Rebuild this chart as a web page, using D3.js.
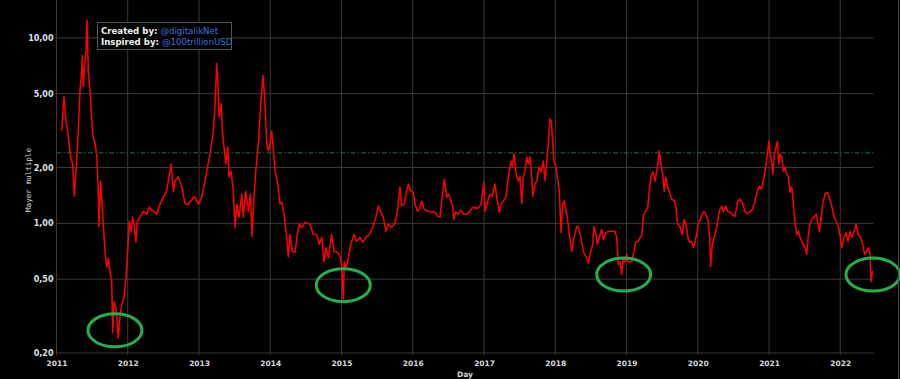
<!DOCTYPE html>
<html><head><meta charset="utf-8">
<script src="https://cdn.jsdelivr.net/npm/d3@7"></script>
<style>
html,body{margin:0;padding:0;background:#000;}
svg{display:block;}
</style></head>
<body>
<svg id="chart" width="900" height="379"></svg>
<script>
// ---- data (decimal year, Mayer multiple) ----
const dayYears = [2011.073,2011.105,2011.133,2011.166,2011.199,2011.227,2011.250,2011.274,2011.306,2011.330,2011.354,2011.362,2011.376,2011.396,2011.414,2011.428,2011.446,2011.470,2011.484,2011.508,2011.540,2011.564,2011.587,2011.596,2011.620,2011.639,2011.657,2011.681,2011.705,2011.727,2011.751,2011.775,2011.789,2011.807,2011.835,2011.867,2011.891,2011.915,2011.947,2011.975,2011.999,2012.022,2012.046,2012.069,2012.088,2012.116,2012.134,2012.172,2012.218,2012.266,2012.302,2012.359,2012.406,2012.453,2012.499,2012.547,2012.607,2012.639,2012.663,2012.709,2012.757,2012.804,2012.850,2012.934,2012.990,2013.038,2013.108,2013.154,2013.201,2013.225,2013.248,2013.262,2013.281,2013.309,2013.327,2013.355,2013.375,2013.403,2013.421,2013.449,2013.481,2013.505,2013.529,2013.561,2013.599,2013.622,2013.655,2013.692,2013.720,2013.744,2013.768,2013.796,2013.832,2013.866,2013.898,2013.926,2013.950,2013.973,2013.996,2014.020,2014.043,2014.067,2014.105,2014.137,2014.161,2014.193,2014.231,2014.253,2014.277,2014.309,2014.347,2014.380,2014.408,2014.441,2014.488,2014.558,2014.604,2014.652,2014.688,2014.722,2014.754,2014.782,2014.815,2014.862,2014.895,2014.933,2014.969,2015.003,2015.025,2015.039,2015.063,2015.096,2015.129,2015.175,2015.213,2015.260,2015.298,2015.344,2015.390,2015.438,2015.484,2015.516,2015.550,2015.587,2015.625,2015.657,2015.705,2015.751,2015.786,2015.821,2015.845,2015.881,2015.915,2015.938,2015.975,2016.008,2016.032,2016.069,2016.102,2016.126,2016.162,2016.218,2016.266,2016.312,2016.350,2016.382,2016.415,2016.443,2016.476,2016.499,2016.537,2016.561,2016.575,2016.603,2016.639,2016.677,2016.709,2016.757,2016.804,2016.836,2016.874,2016.920,2016.958,2016.976,2016.996,2017.014,2017.052,2017.084,2017.116,2017.154,2017.178,2017.211,2017.239,2017.271,2017.305,2017.341,2017.379,2017.397,2017.421,2017.449,2017.481,2017.505,2017.529,2017.552,2017.575,2017.599,2017.622,2017.646,2017.669,2017.684,2017.716,2017.740,2017.772,2017.800,2017.832,2017.856,2017.880,2017.902,2017.926,2017.945,2017.964,2017.982,2018.001,2018.029,2018.057,2018.081,2018.104,2018.127,2018.151,2018.169,2018.197,2018.231,2018.263,2018.301,2018.324,2018.357,2018.394,2018.432,2018.464,2018.498,2018.526,2018.544,2018.572,2018.590,2018.618,2018.652,2018.675,2018.712,2018.745,2018.792,2018.839,2018.862,2018.885,2018.909,2018.932,2018.955,2018.979,2019.003,2019.025,2019.073,2019.096,2019.129,2019.166,2019.214,2019.236,2019.260,2019.298,2019.320,2019.344,2019.372,2019.400,2019.424,2019.446,2019.460,2019.484,2019.508,2019.531,2019.550,2019.578,2019.611,2019.635,2019.671,2019.695,2019.719,2019.751,2019.783,2019.811,2019.835,2019.867,2019.891,2019.915,2019.938,2019.961,2019.985,2020.008,2020.046,2020.078,2020.102,2020.126,2020.148,2020.168,2020.182,2020.204,2020.232,2020.266,2020.288,2020.312,2020.336,2020.358,2020.392,2020.420,2020.453,2020.485,2020.523,2020.561,2020.593,2020.628,2020.663,2020.695,2020.733,2020.771,2020.803,2020.836,2020.864,2020.897,2020.930,2020.958,2020.982,2020.996,2021.014,2021.038,2021.052,2021.074,2021.098,2021.116,2021.136,2021.154,2021.178,2021.201,2021.225,2021.248,2021.271,2021.295,2021.319,2021.341,2021.365,2021.389,2021.411,2021.435,2021.459,2021.481,2021.505,2021.529,2021.552,2021.575,2021.599,2021.632,2021.660,2021.684,2021.707,2021.726,2021.754,2021.786,2021.818,2021.846,2021.880,2021.912,2021.940,2021.973,2021.996,2022.020,2022.053,2022.081,2022.109,2022.137,2022.165,2022.193,2022.221,2022.253,2022.287,2022.315,2022.343,2022.371,2022.399,2022.418,2022.432,2022.450,2022.464];
const mayerMultiple = [3.16,4.82,3.57,2.93,2.28,2.09,1.40,1.91,3.15,5.19,6.67,8.04,5.46,7.27,8.55,12.44,6.67,5.19,4.25,3.04,2.68,2.37,1.49,0.96,1.69,1.27,0.99,0.705,0.58,0.65,0.55,0.485,0.257,0.378,0.35,0.241,0.31,0.364,0.397,0.51,0.705,1.03,0.905,1.08,0.99,0.79,1.03,1.08,1.16,1.12,1.22,1.16,1.12,1.27,1.38,1.50,2.09,1.49,1.69,1.78,1.57,1.27,1.27,1.40,1.27,1.38,1.91,2.37,3.15,4.42,7.27,5.88,3.75,4.42,3.15,2.46,2.09,2.58,1.78,1.91,1.49,0.95,1.27,1.08,1.44,1.08,1.49,1.16,1.44,0.85,1.32,1.91,2.68,4.42,6.26,4.42,2.68,2.46,2.68,3.15,2.46,1.91,1.63,1.27,1.30,1.12,0.84,0.66,0.87,0.705,0.70,0.87,0.99,0.95,1.01,0.99,0.87,0.87,0.77,0.84,0.62,0.74,0.65,0.87,0.705,0.70,0.68,0.60,0.387,0.62,0.58,0.65,0.77,0.87,0.80,0.84,0.79,0.84,0.87,0.95,1.08,1.24,1.15,1.08,0.905,0.99,0.95,1.0,1.16,1.57,1.24,1.27,1.49,1.63,1.49,1.47,1.27,1.16,1.22,1.32,1.19,1.16,1.15,1.15,1.09,1.08,1.44,1.73,1.38,1.44,1.32,1.22,1.05,1.15,1.12,1.18,1.12,1.12,1.16,1.22,1.21,1.21,1.27,1.44,1.67,1.16,1.32,1.44,1.40,1.63,1.38,1.15,1.27,1.32,1.38,1.78,2.17,2.01,2.37,1.84,1.69,1.78,1.27,1.78,1.91,2.28,2.09,2.28,1.78,1.40,1.63,1.69,2.01,1.89,2.17,1.69,2.17,2.68,3.66,3.57,2.68,2.14,2.09,1.78,1.49,0.89,1.27,1.32,1.16,1.08,0.87,0.705,0.84,0.96,0.96,0.84,0.705,0.66,0.61,0.705,0.77,0.96,0.87,0.77,0.84,0.93,0.82,0.89,0.905,0.905,0.905,0.84,0.60,0.62,0.53,0.65,0.62,0.68,0.62,0.62,0.68,0.79,0.80,0.87,1.08,1.15,1.22,1.49,1.80,1.89,1.69,1.91,2.17,2.46,2.09,1.84,1.49,1.78,1.57,1.44,1.35,1.32,1.22,0.99,0.96,0.87,1.05,0.99,0.82,0.79,0.80,0.74,0.79,0.87,0.99,1.08,1.15,1.15,1.08,1.03,0.84,0.585,0.77,0.84,0.95,1.08,1.19,1.24,1.16,1.24,1.16,1.15,1.11,1.09,1.32,1.35,1.28,1.16,1.13,1.16,1.19,1.32,1.49,1.59,1.53,1.78,2.09,2.46,2.78,2.37,2.09,1.84,2.37,2.58,2.75,2.09,2.37,2.28,1.91,2.01,1.84,1.78,1.47,1.57,1.27,0.99,0.87,0.905,0.84,0.80,0.77,0.74,0.68,0.87,0.99,1.05,1.08,1.12,1.01,0.905,1.03,1.27,1.44,1.47,1.38,1.24,1.09,1.03,0.96,0.87,0.74,0.84,0.89,0.80,0.905,0.84,0.905,0.99,0.87,0.84,0.77,0.68,0.705,0.74,0.68,0.485,0.55,0.55];
const yTickValues = [0.2, 0.5, 1, 2, 5, 10];
const yearTicks = [2011,2012,2013,2014,2015,2016,2017,2018,2019,2020,2021,2022];
const thresholdValue = [2.4];
const highlightYears = [2011.821, 2015.025, 2018.961, 2022.459];
const highlightValues = [0.265, 0.464, 0.529, 0.529];
const creditLabels = ["Created by:", "Inspired by:"];
const creditHandles = ["@digitalikNet", "@100trillionUSD"];

(function(){
function decToDate(d){
  const y = Math.floor(d);
  const s = Date.UTC(y,0,1), e = Date.UTC(y+1,0,1);
  return new Date(s + (d - y) * (e - s));
}
const data = dayYears.map((d,i)=>({date: decToDate(d), v: mayerMultiple[i]}));

const svg = d3.select("#chart");
const W = 900, H = 379;
const pL = 56.5, pR = 873.3, pT = 0, pB = 355;

svg.append("rect").attr("width",W).attr("height",H).attr("fill","#000");

const x = d3.scaleTime()
  .domain([new Date(Date.UTC(2011,0,1)), decToDate(2022.464)])
  .range([pL, pR]);
const y = d3.scaleLog().domain([0.195, 16]).range([pB, pT]);

// grid
const grid = svg.append("g");
grid.selectAll("line.v").data(yearTicks).join("line").attr("class","v")
  .attr("x1",d=>x(new Date(Date.UTC(d,0,1)))).attr("x2",d=>x(new Date(Date.UTC(d,0,1))))
  .attr("y1",pT).attr("y2",pB)
  .attr("stroke","#3a3a3a").attr("stroke-width",1);
grid.selectAll("line.h").data(yTickValues).join("line").attr("class","h")
  .attr("x1",pL).attr("x2",pR)
  .attr("y1",d=>y(d)).attr("y2",d=>y(d))
  .attr("stroke","#3a3a3a").attr("stroke-width",1);

// axes (labels only)
const fmt = d => d3.format(".2f")(d).replace(".", ",");
const yAxis = svg.append("g").attr("transform",`translate(${pL-3},0)`)
  .call(d3.axisLeft(y).tickValues(yTickValues).tickFormat(fmt).tickSize(0).tickPadding(0));
yAxis.select(".domain").remove();
yAxis.selectAll("text").attr("fill","#dfe3ea").attr("font-family","DejaVu Sans, Verdana, sans-serif")
  .attr("font-weight","bold").attr("font-size","8px");

const xAxis = svg.append("g").attr("transform",`translate(0,${pB+6})`)
  .call(d3.axisBottom(x).tickValues(yearTicks.map(d=>new Date(Date.UTC(d,0,1))))
    .tickFormat(d3.utcFormat("%Y")).tickSize(0).tickPadding(0));
xAxis.select(".domain").remove();
xAxis.selectAll("text").attr("fill","#d6d9de").attr("font-family","DejaVu Sans, Verdana, sans-serif")
  .attr("font-weight","bold").attr("font-size","7.5px");

// axis titles
svg.append("text").attr("transform",`translate(31,180) rotate(-90)`)
  .attr("text-anchor","middle").attr("fill","#d0d3d8")
  .attr("font-family","DejaVu Sans Mono, monospace").attr("font-size","7.6px")
  .text("Mayer multiple");
svg.append("text").attr("x",(pL+pR)/2).attr("y",377)
  .attr("text-anchor","middle").attr("fill","#d0d3d8")
  .attr("font-family","DejaVu Sans, Verdana, sans-serif").attr("font-weight","bold").attr("font-size","7.5px")
  .text("Day");

// threshold line
svg.selectAll("line.th").data(thresholdValue).join("line").attr("class","th")
  .attr("x1",pL).attr("x2",pR).attr("y1",d=>y(d)).attr("y2",d=>y(d))
  .attr("stroke","#1f6b3c").attr("stroke-width",1).attr("stroke-dasharray","5,2,1.5,2");

// series
const line = d3.line().x(d=>x(d.date)).y(d=>y(d.v));
svg.append("path").datum(data).attr("d",line)
  .attr("fill","none").attr("stroke","#ff0000").attr("stroke-width",1.5).attr("stroke-linejoin","round");

// highlight ellipses
svg.selectAll("ellipse.hl").data(highlightYears.map((d,i)=>({date:decToDate(d), v:highlightValues[i]})))
  .join("ellipse").attr("class","hl")
  .attr("cx",d=>x(d.date)).attr("cy",d=>y(d.v)).attr("rx",27).attr("ry",16.5)
  .attr("fill","none").attr("stroke","#22b14c").attr("stroke-width",3);

// credits box
const box = svg.append("g").attr("transform","translate(97.5,22.5)");
box.append("rect").attr("width",134).attr("height",27)
  .attr("fill","#000").attr("fill-opacity",0.85).attr("stroke","#555").attr("stroke-width",1);
creditLabels.forEach((lab,i)=>{
  const t = box.append("text").attr("x",3.5).attr("y",11.5+i*11)
    .attr("font-family","DejaVu Sans, Verdana, sans-serif").attr("font-size","8.6px");
  t.append("tspan").attr("fill","#f2f2f2").attr("font-weight","bold").text(lab+" ");
  t.append("tspan").attr("fill","#3d73d9").text(creditHandles[i]);
});

// right border
svg.append("line").attr("x1",898.5).attr("x2",898.5).attr("y1",0).attr("y2",H)
  .attr("stroke","#4a4a4a").attr("stroke-width",1);
})();
</script>
</body></html>
